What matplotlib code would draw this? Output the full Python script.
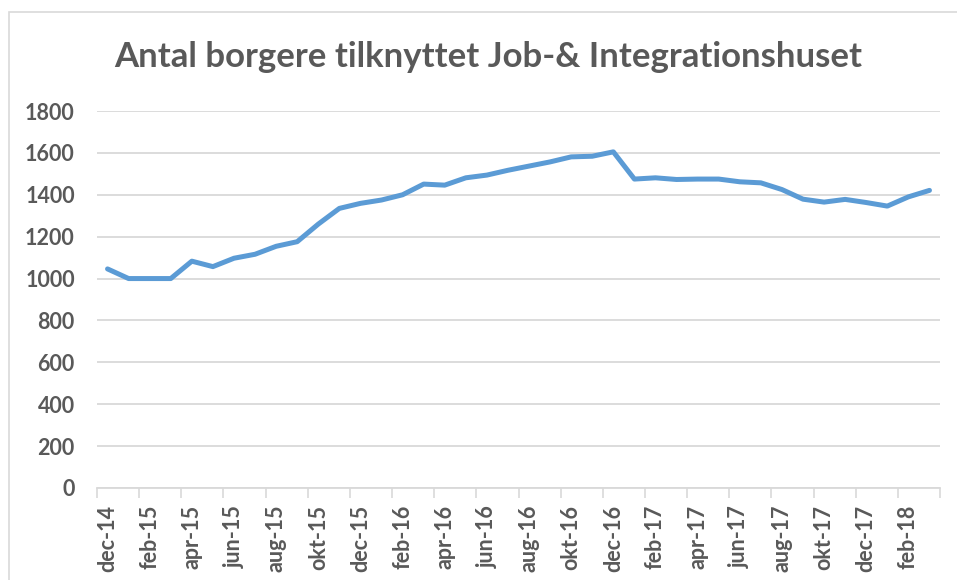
import matplotlib
matplotlib.use("Agg")
import matplotlib.pyplot as plt
from matplotlib.patches import Rectangle
from matplotlib.ticker import FixedLocator, NullFormatter

plt.rcParams['font.family'] = ['Lato', 'DejaVu Sans']

months = ["jan", "feb", "mar", "apr", "maj", "jun", "jul", "aug", "sep", "okt", "nov", "dec"]
categories = ["dec-14"] + [f"{m}-{y}" for y in ("15", "16", "17") for m in months] + ["jan-18", "feb-18", "mar-18"]
values = [1046, 1000, 1000, 1000, 1083, 1057, 1097, 1116, 1154, 1176,
          1260, 1335, 1359, 1375, 1400, 1451, 1446, 1481, 1494, 1517,
          1537, 1557, 1581, 1584, 1605, 1475, 1481, 1473, 1475, 1475,
          1462, 1457, 1425, 1379, 1365, 1378, 1363, 1346, 1390, 1421]
title = "Antal borgere tilknyttet Job-& Integrationshuset"
yticks = [0, 200, 400, 600, 800, 1000, 1200, 1400, 1600, 1800]

grey_txt = "#595959"
grid_c = "#d9d9d9"

fig = plt.figure(figsize=(9.57, 5.8), dpi=100)
fig.patches.append(Rectangle((9/957, -0.1), 1.2, 1 - 12/580 + 0.1, transform=fig.transFigure,
                             fill=False, edgecolor=grid_c, linewidth=1.2, figure=fig))
ax = fig.add_axes([97/957, 1 - 488/580, (940 - 97)/957, (488 - 111)/580])

x = list(range(len(categories)))
ax.plot(x, values, color="#5b9bd5", linewidth=3.6, solid_capstyle="round", solid_joinstyle="round", zorder=3)

ax.set_ylim(0, 1800)
ax.set_xlim(-0.5, len(categories) - 0.5)
ax.set_yticks(yticks)
ax.set_yticklabels([str(v) for v in yticks], fontsize=15.5, fontweight="bold", color=grey_txt)
ax.tick_params(axis="y", length=0, pad=16)
ax.yaxis.grid(True, color=grid_c, linewidth=1.3)
ax.set_axisbelow(True)

# x axis: tick marks at category boundaries every 2, labels every 2 categories
ax.xaxis.set_major_locator(FixedLocator([i - 0.5 for i in range(0, len(categories) + 1, 2)]))
ax.xaxis.set_major_formatter(NullFormatter())
ax.xaxis.set_minor_locator(FixedLocator(list(range(0, len(categories), 2))))
ax.set_xticklabels([categories[i] for i in range(0, len(categories), 2)], minor=True,
                   rotation=90, fontsize=15.5, fontweight="bold", color=grey_txt)
ax.tick_params(axis="x", which="major", length=7, color=grid_c, width=1.2)
ax.tick_params(axis="x", which="minor", length=0, pad=12)

for s in ("left", "right", "top"):
    ax.spines[s].set_visible(False)
ax.spines["bottom"].set_color(grid_c)
ax.spines["bottom"].set_linewidth(1.3)

fig.text(488/957, 1 - 57/580, title, ha="center", va="center", fontsize=25,
         fontweight="bold", color=grey_txt)

fig.savefig("out.png", dpi=100)
